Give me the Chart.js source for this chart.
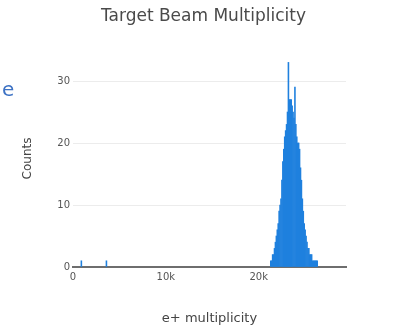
<!DOCTYPE html>
<html>
<head>
<meta charset="utf-8">
<script src="https://cdn.jsdelivr.net/npm/chart.js@4/dist/chart.umd.min.js"></script>
<style>
  html, body { margin: 0; padding: 0; background: #fff; }
  #wrap { position: relative; width: 393px; height: 329px; }
  #side { position: absolute; left: 2px; top: 77px; font: 20px "DejaVu Sans", sans-serif; color: #3d72c4; }
</style>
</head>
<body>
<div id="wrap">
  <canvas id="c" width="393" height="329"></canvas>
  <span id="side">e</span>
</div>
<script>
// Histogram bin centres (e+ multiplicity) and the counts in each bin
const binCenters = [
  900, 3600,
  21300, 21400, 21500, 21600, 21700, 21800, 21900, 22000, 22100, 22200,
  22300, 22400, 22500, 22600, 22700, 22800, 22900, 23000, 23100, 23200,
  23300, 23400, 23500, 23600, 23700, 23800, 23900, 24000, 24100, 24200,
  24300, 24400, 24500, 24600, 24700, 24800, 24900, 25000, 25100, 25200,
  25300, 25400, 25500, 25600, 25700, 25800, 25900, 26000, 26100, 26200, 26300
];
const counts = [
  1, 1,
  1, 1, 2, 2, 3, 4, 5, 6, 7, 9,
  10, 11, 14, 17, 19, 21, 22, 23, 25, 33,
  27, 27, 27, 26, 25, 24, 29, 23, 21, 20,
  20, 19, 16, 14, 11, 9, 7, 6, 5, 4,
  3, 3, 2, 2, 2, 1, 1, 1, 1, 1, 1
];
const yTicks = [0, 10, 20, 30];
const xTickLabels = { 0: '0', 10000: '10k', 20000: '20k' };
const chartTitle = 'Target Beam Multiplicity';

const points = binCenters.map((x, i) => ({ x: x, y: counts[i] }));
const font = "'DejaVu Sans', sans-serif";

// Title drawn above the plot, centred a little left of the plot's middle
const titlePlugin = {
  id: 'topTitle',
  afterDraw(chart) {
    const { ctx, chartArea } = chart;
    ctx.save();
    ctx.font = "17px " + font;
    ctx.fillStyle = '#4a4a4a';
    ctx.textAlign = 'center';
    ctx.textBaseline = 'middle';
    ctx.fillText(chartTitle, (chartArea.left + chartArea.right) / 2 - 6, 17);
    ctx.restore();
  }
};

new Chart(document.getElementById('c'), {
  type: 'bar',
  data: {
    datasets: [{
      data: points,
      backgroundColor: '#1f80de',
      borderWidth: 0,
      barPercentage: 1,
      categoryPercentage: 1
    }]
  },
  plugins: [titlePlugin],
  options: {
    responsive: false,
    animation: false,
    layout: { padding: { left: 0, right: 47, top: 50, bottom: 0 } },
    plugins: {
      legend: { display: false },
      tooltip: { enabled: false },
      title: { display: false }
    },
    scales: {
      x: {
        type: 'linear',
        offset: false,
        min: 0,
        max: 29400,
        afterFit: s => { s.height = 62; },
        grid: { display: false, drawTicks: false, offset: false },
        border: { display: true, color: '#6e6e6e', width: 2 },
        afterBuildTicks: s => { s.ticks = Object.keys(xTickLabels).map(v => ({ value: +v })); },
        ticks: {
          color: '#555',
          font: { family: font, size: 10 },
          padding: 4,
          maxRotation: 0,
          autoSkip: false,
          callback: v => xTickLabels[v]
        },
        title: {
          display: true,
          text: 'e+ multiplicity',
          color: '#444',
          font: { family: font, size: 13 },
          padding: { top: 17, bottom: 3 }
        }
      },
      y: {
        min: 0,
        max: 35,
        afterFit: s => { s.width = 73; },
        afterBuildTicks: s => { s.ticks = yTicks.map(v => ({ value: v })); },
        grid: { color: '#ececec', drawTicks: false },
        border: { display: false },
        ticks: {
          color: '#555',
          font: { family: font, size: 10 },
          padding: 3
        },
        title: {
          display: true,
          text: 'Counts',
          color: '#444',
          font: { family: font, size: 12 },
          padding: { top: 21, bottom: 0 }
        }
      }
    }
  }
});
</script>
</body>
</html>
